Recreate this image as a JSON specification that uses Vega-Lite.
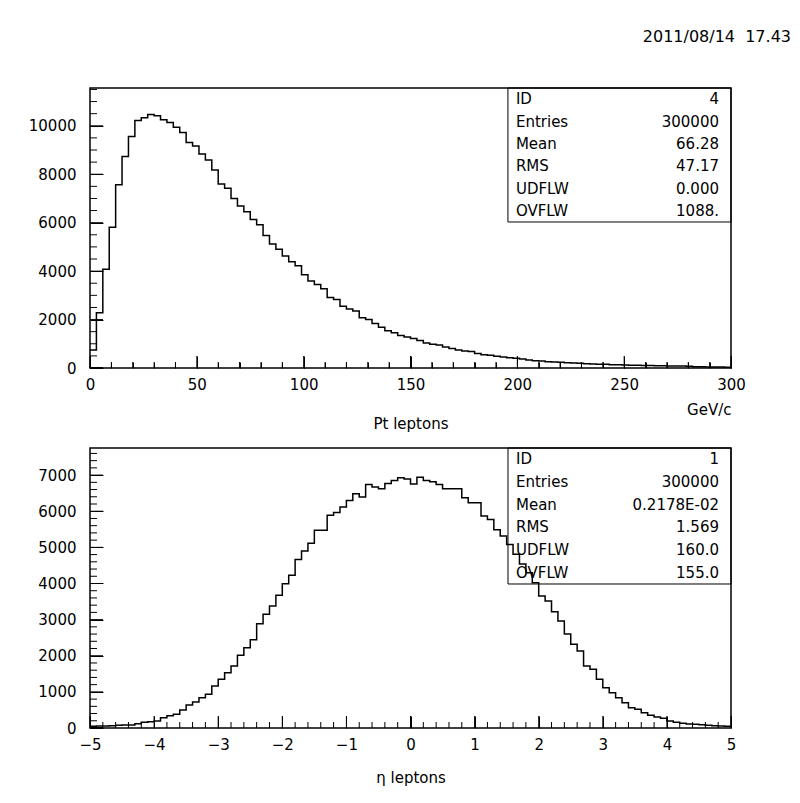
{
  "$schema": "https://vega.github.io/schema/vega-lite/v6.json",
  "background": "white",
  "padding": {"left": 27, "top": 27, "right": 0, "bottom": 0},
  "spacing": 80,
  "bounds": "flush",
  "datasets": {
    "pt": [
      {"pt": 0, "n": 746}, {"pt": 3, "n": 2279}, {"pt": 6, "n": 4074}, {"pt": 9, "n": 5814}, {"pt": 12, "n": 7568},
      {"pt": 15, "n": 8728}, {"pt": 18, "n": 9557}, {"pt": 21, "n": 10219}, {"pt": 24, "n": 10330}, {"pt": 27, "n": 10468},
      {"pt": 30, "n": 10413}, {"pt": 33, "n": 10247}, {"pt": 36, "n": 10137}, {"pt": 39, "n": 9943}, {"pt": 42, "n": 9722},
      {"pt": 45, "n": 9308}, {"pt": 48, "n": 9170}, {"pt": 51, "n": 8838}, {"pt": 54, "n": 8590}, {"pt": 57, "n": 8175},
      {"pt": 60, "n": 7596}, {"pt": 63, "n": 7416}, {"pt": 66, "n": 7002}, {"pt": 69, "n": 6684}, {"pt": 72, "n": 6449},
      {"pt": 75, "n": 6132}, {"pt": 78, "n": 5911}, {"pt": 81, "n": 5469}, {"pt": 84, "n": 5120}, {"pt": 87, "n": 4900},
      {"pt": 90, "n": 4625}, {"pt": 93, "n": 4385}, {"pt": 96, "n": 4226}, {"pt": 99, "n": 3853}, {"pt": 102, "n": 3590},
      {"pt": 105, "n": 3450}, {"pt": 108, "n": 3270}, {"pt": 111, "n": 2914}, {"pt": 114, "n": 2825}, {"pt": 117, "n": 2550},
      {"pt": 120, "n": 2431}, {"pt": 123, "n": 2350}, {"pt": 126, "n": 2070}, {"pt": 129, "n": 2000}, {"pt": 132, "n": 1840},
      {"pt": 135, "n": 1685}, {"pt": 138, "n": 1533}, {"pt": 141, "n": 1457}, {"pt": 144, "n": 1346}, {"pt": 147, "n": 1278},
      {"pt": 150, "n": 1222}, {"pt": 153, "n": 1132}, {"pt": 156, "n": 1036}, {"pt": 159, "n": 980}, {"pt": 162, "n": 950},
      {"pt": 165, "n": 863}, {"pt": 168, "n": 801}, {"pt": 171, "n": 746}, {"pt": 174, "n": 704}, {"pt": 177, "n": 677},
      {"pt": 180, "n": 594}, {"pt": 183, "n": 552}, {"pt": 186, "n": 525}, {"pt": 189, "n": 483}, {"pt": 192, "n": 456},
      {"pt": 195, "n": 428}, {"pt": 198, "n": 400}, {"pt": 201, "n": 373}, {"pt": 204, "n": 331}, {"pt": 207, "n": 304},
      {"pt": 210, "n": 290}, {"pt": 213, "n": 262}, {"pt": 216, "n": 249}, {"pt": 219, "n": 235}, {"pt": 222, "n": 221},
      {"pt": 225, "n": 207}, {"pt": 228, "n": 193}, {"pt": 231, "n": 180}, {"pt": 234, "n": 166}, {"pt": 237, "n": 152},
      {"pt": 240, "n": 150}, {"pt": 243, "n": 138}, {"pt": 246, "n": 135}, {"pt": 249, "n": 124}, {"pt": 252, "n": 118},
      {"pt": 255, "n": 112}, {"pt": 258, "n": 106}, {"pt": 261, "n": 100}, {"pt": 264, "n": 95}, {"pt": 267, "n": 90},
      {"pt": 270, "n": 86}, {"pt": 273, "n": 82}, {"pt": 276, "n": 78}, {"pt": 279, "n": 74}, {"pt": 282, "n": 50},
      {"pt": 285, "n": 47}, {"pt": 288, "n": 44}, {"pt": 291, "n": 41}, {"pt": 294, "n": 38}, {"pt": 297, "n": 35},
      {"pt": 300, "n": 35}
    ],
    "eta": [
      {"eta": -5, "n": 45}, {"eta": -4.9, "n": 55}, {"eta": -4.8, "n": 55}, {"eta": -4.7, "n": 65}, {"eta": -4.6, "n": 74},
      {"eta": -4.5, "n": 83}, {"eta": -4.4, "n": 83}, {"eta": -4.3, "n": 120}, {"eta": -4.2, "n": 157}, {"eta": -4.1, "n": 175},
      {"eta": -4, "n": 194}, {"eta": -3.9, "n": 286}, {"eta": -3.8, "n": 341}, {"eta": -3.7, "n": 378}, {"eta": -3.6, "n": 498},
      {"eta": -3.5, "n": 636}, {"eta": -3.4, "n": 719}, {"eta": -3.3, "n": 839}, {"eta": -3.2, "n": 932}, {"eta": -3.1, "n": 1162},
      {"eta": -3, "n": 1347}, {"eta": -2.9, "n": 1531}, {"eta": -2.8, "n": 1716}, {"eta": -2.7, "n": 2011}, {"eta": -2.6, "n": 2223},
      {"eta": -2.5, "n": 2440}, {"eta": -2.4, "n": 2887}, {"eta": -2.3, "n": 3145}, {"eta": -2.2, "n": 3376}, {"eta": -2.1, "n": 3671},
      {"eta": -2, "n": 3994}, {"eta": -1.9, "n": 4225}, {"eta": -1.8, "n": 4667}, {"eta": -1.7, "n": 4898}, {"eta": -1.6, "n": 5115},
      {"eta": -1.5, "n": 5475}, {"eta": -1.4, "n": 5475}, {"eta": -1.3, "n": 5890}, {"eta": -1.2, "n": 5963}, {"eta": -1.1, "n": 6116},
      {"eta": -1, "n": 6300}, {"eta": -0.9, "n": 6484}, {"eta": -0.8, "n": 6396}, {"eta": -0.7, "n": 6738}, {"eta": -0.6, "n": 6669},
      {"eta": -0.5, "n": 6623}, {"eta": -0.4, "n": 6770}, {"eta": -0.3, "n": 6853}, {"eta": -0.2, "n": 6927}, {"eta": -0.1, "n": 6895},
      {"eta": 0, "n": 6752}, {"eta": 0.1, "n": 6940}, {"eta": 0.2, "n": 6853}, {"eta": 0.3, "n": 6817}, {"eta": 0.4, "n": 6743},
      {"eta": 0.5, "n": 6623}, {"eta": 0.6, "n": 6623}, {"eta": 0.7, "n": 6623}, {"eta": 0.8, "n": 6374}, {"eta": 0.9, "n": 6235},
      {"eta": 1, "n": 6235}, {"eta": 1.1, "n": 5866}, {"eta": 1.2, "n": 5774}, {"eta": 1.3, "n": 5490}, {"eta": 1.4, "n": 5313},
      {"eta": 1.5, "n": 5082}, {"eta": 1.6, "n": 4806}, {"eta": 1.7, "n": 4540}, {"eta": 1.8, "n": 4298}, {"eta": 1.9, "n": 4022},
      {"eta": 2, "n": 3653}, {"eta": 2.1, "n": 3514}, {"eta": 2.2, "n": 3220}, {"eta": 2.3, "n": 2961}, {"eta": 2.4, "n": 2600},
      {"eta": 2.5, "n": 2315}, {"eta": 2.6, "n": 2131}, {"eta": 2.7, "n": 1716}, {"eta": 2.8, "n": 1623}, {"eta": 2.9, "n": 1347},
      {"eta": 3, "n": 1116}, {"eta": 3.1, "n": 978}, {"eta": 3.2, "n": 839}, {"eta": 3.3, "n": 701}, {"eta": 3.4, "n": 563},
      {"eta": 3.5, "n": 517}, {"eta": 3.6, "n": 424}, {"eta": 3.7, "n": 351}, {"eta": 3.8, "n": 304}, {"eta": 3.9, "n": 267},
      {"eta": 4, "n": 194}, {"eta": 4.1, "n": 157}, {"eta": 4.2, "n": 129}, {"eta": 4.3, "n": 111}, {"eta": 4.4, "n": 101},
      {"eta": 4.5, "n": 92}, {"eta": 4.6, "n": 74}, {"eta": 4.7, "n": 65}, {"eta": 4.8, "n": 55}, {"eta": 4.9, "n": 45},
      {"eta": 5, "n": 45}
    ],
    "stat1": [
      {"stat": "ID", "value": "4"},
      {"stat": "Entries", "value": "300000"},
      {"stat": "Mean", "value": "66.28"},
      {"stat": "RMS", "value": "47.17"},
      {"stat": "UDFLW", "value": "0.000"},
      {"stat": "OVFLW", "value": "1088."}
    ],
    "stat2": [
      {"stat": "ID", "value": "1"},
      {"stat": "Entries", "value": "300000"},
      {"stat": "Mean", "value": "0.2178E-02"},
      {"stat": "RMS", "value": "1.569"},
      {"stat": "UDFLW", "value": "160.0"},
      {"stat": "OVFLW", "value": "155.0"}
    ],
    "ptMaj": [{"v": 0}, {"v": 50}, {"v": 100}, {"v": 150}, {"v": 200}, {"v": 250}, {"v": 300}],
    "ptMin": [{"v": 10}, {"v": 20}, {"v": 30}, {"v": 40}, {"v": 60}, {"v": 70}, {"v": 80}, {"v": 90}, {"v": 110}, {"v": 120}, {"v": 130}, {"v": 140}, {"v": 160}, {"v": 170}, {"v": 180}, {"v": 190}, {"v": 210}, {"v": 220}, {"v": 230}, {"v": 240}, {"v": 260}, {"v": 270}, {"v": 280}, {"v": 290}],
    "etaMaj": [{"v": -5}, {"v": -4}, {"v": -3}, {"v": -2}, {"v": -1}, {"v": 0}, {"v": 1}, {"v": 2}, {"v": 3}, {"v": 4}, {"v": 5}],
    "etaMin": [{"v": -4.8}, {"v": -4.6}, {"v": -4.4}, {"v": -4.2}, {"v": -3.8}, {"v": -3.6}, {"v": -3.4}, {"v": -3.2}, {"v": -2.8}, {"v": -2.6}, {"v": -2.4}, {"v": -2.2}, {"v": -1.8}, {"v": -1.6}, {"v": -1.4}, {"v": -1.2}, {"v": -0.8}, {"v": -0.6}, {"v": -0.4}, {"v": -0.2}, {"v": 0.2}, {"v": 0.4}, {"v": 0.6}, {"v": 0.8}, {"v": 1.2}, {"v": 1.4}, {"v": 1.6}, {"v": 1.8}, {"v": 2.2}, {"v": 2.4}, {"v": 2.6}, {"v": 2.8}, {"v": 3.2}, {"v": 3.4}, {"v": 3.6}, {"v": 3.8}, {"v": 4.2}, {"v": 4.4}, {"v": 4.6}, {"v": 4.8}]
  },
  "vconcat": [
    {
      "width": 641,
      "height": 280,
      "title": {"text": "2011/08/14 \u00a017.43", "anchor": "end", "frame": "group", "dx": 60, "offset": 43, "fontSize": 16, "fontWeight": "normal", "font": "DejaVu Sans", "color": "black"},
      "layer": [
        {
          "layer": [
            {
              "data": {"name": "pt"},
              "mark": {"type": "line", "interpolate": "step-after", "color": "black", "strokeWidth": 1.5},
              "encoding": {
                "x": {"field": "pt", "type": "quantitative", "scale": {"domain": [0, 300], "nice": false, "zero": false},
                  "axis": {"orient": "bottom", "values": [0, 50, 100, 150, 200, 250, 300], "format": "d", "offset": -12, "ticks": true, "tickSize": 12, "tickColor": "black", "tickWidth": 1, "labelPadding": 9, "domain": false, "grid": false, "labelFlush": false, "labelOverlap": false, "title": "Pt leptons", "titlePadding": 24}},
                "y": {"field": "n", "type": "quantitative", "scale": {"domain": [0, 11560], "nice": false},
                  "axis": {"orient": "left", "values": [0, 2000, 4000, 6000, 8000, 10000], "format": "d", "offset": -13, "ticks": true, "tickSize": 13, "tickColor": "black", "tickWidth": 1, "labelPadding": 14, "domain": false, "grid": false, "labelFlush": false, "labelOverlap": false, "title": null}}
              }
            },
            {
              "data": {"values": [{}]},
              "mark": {"type": "rect", "fill": null, "stroke": "black", "strokeWidth": 1},
              "encoding": {
                "x": {"datum": 195.6, "type": "quantitative",
                  "axis": {"orient": "bottom", "offset": -6, "ticks": true, "tickSize": 6, "tickColor": "black", "values": [0, 10, 20, 30, 40, 50, 60, 70, 80, 90, 100, 110, 120, 130, 140, 150, 160, 170, 180, 190, 200, 210, 220, 230, 240, 250, 260, 270, 280, 290, 300], "labels": false, "domain": false, "grid": false, "title": "GeV/c", "titleAnchor": "end", "titlePadding": 34}},
                "x2": {"datum": 300},
                "y": {"datum": 6028, "type": "quantitative", "axis": null},
                "y2": {"datum": 11560}
              }
            },
            {
              "data": {"name": "ptMaj"},
              "mark": {"type": "tick", "orient": "vertical", "size": 12, "thickness": 1, "color": "black", "opacity": 1, "yOffset": -6},
              "encoding": {"x": {"field": "v", "type": "quantitative", "axis": null}, "y": {"datum": 0, "type": "quantitative", "axis": null}}
            },
            {
              "data": {"name": "ptMin"},
              "mark": {"type": "tick", "orient": "vertical", "size": 6, "thickness": 1, "color": "black", "opacity": 1, "yOffset": -3},
              "encoding": {"x": {"field": "v", "type": "quantitative", "axis": null}, "y": {"datum": 0, "type": "quantitative", "axis": null}}
            },
            {"data": {"values": [{}]}, "mark": {"type": "rect", "color": "black"}, "encoding": {"x": {"datum": 0, "type": "quantitative", "axis": null}, "x2": {"datum": 6.08}, "y": {"datum": 0, "type": "quantitative", "axis": null}, "y2": {"datum": 41}}},
            {"data": {"values": [{}]}, "mark": {"type": "rect", "color": "black"}, "encoding": {"x": {"datum": 0, "type": "quantitative", "axis": null}, "x2": {"datum": 6.08}, "y": {"datum": 1980, "type": "quantitative", "axis": null}, "y2": {"datum": 2020}}},
            {"data": {"values": [{}]}, "mark": {"type": "rect", "color": "black"}, "encoding": {"x": {"datum": 0, "type": "quantitative", "axis": null}, "x2": {"datum": 6.08}, "y": {"datum": 3980, "type": "quantitative", "axis": null}, "y2": {"datum": 4020}}},
            {"data": {"values": [{}]}, "mark": {"type": "rect", "color": "black"}, "encoding": {"x": {"datum": 0, "type": "quantitative", "axis": null}, "x2": {"datum": 6.08}, "y": {"datum": 5980, "type": "quantitative", "axis": null}, "y2": {"datum": 6020}}},
            {"data": {"values": [{}]}, "mark": {"type": "rect", "color": "black"}, "encoding": {"x": {"datum": 0, "type": "quantitative", "axis": null}, "x2": {"datum": 6.08}, "y": {"datum": 7980, "type": "quantitative", "axis": null}, "y2": {"datum": 8020}}},
            {"data": {"values": [{}]}, "mark": {"type": "rect", "color": "black"}, "encoding": {"x": {"datum": 0, "type": "quantitative", "axis": null}, "x2": {"datum": 6.08}, "y": {"datum": 9980, "type": "quantitative", "axis": null}, "y2": {"datum": 10020}}},
            {"data": {"values": [{}]}, "mark": {"type": "rect", "color": "black"}, "encoding": {"x": {"datum": 0, "type": "quantitative", "axis": null}, "x2": {"datum": 3.28}, "y": {"datum": 480, "type": "quantitative", "axis": null}, "y2": {"datum": 520}}},
            {"data": {"values": [{}]}, "mark": {"type": "rect", "color": "black"}, "encoding": {"x": {"datum": 0, "type": "quantitative", "axis": null}, "x2": {"datum": 3.28}, "y": {"datum": 980, "type": "quantitative", "axis": null}, "y2": {"datum": 1020}}},
            {"data": {"values": [{}]}, "mark": {"type": "rect", "color": "black"}, "encoding": {"x": {"datum": 0, "type": "quantitative", "axis": null}, "x2": {"datum": 3.28}, "y": {"datum": 1480, "type": "quantitative", "axis": null}, "y2": {"datum": 1520}}},
            {"data": {"values": [{}]}, "mark": {"type": "rect", "color": "black"}, "encoding": {"x": {"datum": 0, "type": "quantitative", "axis": null}, "x2": {"datum": 3.28}, "y": {"datum": 2480, "type": "quantitative", "axis": null}, "y2": {"datum": 2520}}},
            {"data": {"values": [{}]}, "mark": {"type": "rect", "color": "black"}, "encoding": {"x": {"datum": 0, "type": "quantitative", "axis": null}, "x2": {"datum": 3.28}, "y": {"datum": 2980, "type": "quantitative", "axis": null}, "y2": {"datum": 3020}}},
            {"data": {"values": [{}]}, "mark": {"type": "rect", "color": "black"}, "encoding": {"x": {"datum": 0, "type": "quantitative", "axis": null}, "x2": {"datum": 3.28}, "y": {"datum": 3480, "type": "quantitative", "axis": null}, "y2": {"datum": 3520}}},
            {"data": {"values": [{}]}, "mark": {"type": "rect", "color": "black"}, "encoding": {"x": {"datum": 0, "type": "quantitative", "axis": null}, "x2": {"datum": 3.28}, "y": {"datum": 4480, "type": "quantitative", "axis": null}, "y2": {"datum": 4520}}},
            {"data": {"values": [{}]}, "mark": {"type": "rect", "color": "black"}, "encoding": {"x": {"datum": 0, "type": "quantitative", "axis": null}, "x2": {"datum": 3.28}, "y": {"datum": 4980, "type": "quantitative", "axis": null}, "y2": {"datum": 5020}}},
            {"data": {"values": [{}]}, "mark": {"type": "rect", "color": "black"}, "encoding": {"x": {"datum": 0, "type": "quantitative", "axis": null}, "x2": {"datum": 3.28}, "y": {"datum": 5480, "type": "quantitative", "axis": null}, "y2": {"datum": 5520}}},
            {"data": {"values": [{}]}, "mark": {"type": "rect", "color": "black"}, "encoding": {"x": {"datum": 0, "type": "quantitative", "axis": null}, "x2": {"datum": 3.28}, "y": {"datum": 6480, "type": "quantitative", "axis": null}, "y2": {"datum": 6520}}},
            {"data": {"values": [{}]}, "mark": {"type": "rect", "color": "black"}, "encoding": {"x": {"datum": 0, "type": "quantitative", "axis": null}, "x2": {"datum": 3.28}, "y": {"datum": 6980, "type": "quantitative", "axis": null}, "y2": {"datum": 7020}}},
            {"data": {"values": [{}]}, "mark": {"type": "rect", "color": "black"}, "encoding": {"x": {"datum": 0, "type": "quantitative", "axis": null}, "x2": {"datum": 3.28}, "y": {"datum": 7480, "type": "quantitative", "axis": null}, "y2": {"datum": 7520}}},
            {"data": {"values": [{}]}, "mark": {"type": "rect", "color": "black"}, "encoding": {"x": {"datum": 0, "type": "quantitative", "axis": null}, "x2": {"datum": 3.28}, "y": {"datum": 8480, "type": "quantitative", "axis": null}, "y2": {"datum": 8520}}},
            {"data": {"values": [{}]}, "mark": {"type": "rect", "color": "black"}, "encoding": {"x": {"datum": 0, "type": "quantitative", "axis": null}, "x2": {"datum": 3.28}, "y": {"datum": 8980, "type": "quantitative", "axis": null}, "y2": {"datum": 9020}}},
            {"data": {"values": [{}]}, "mark": {"type": "rect", "color": "black"}, "encoding": {"x": {"datum": 0, "type": "quantitative", "axis": null}, "x2": {"datum": 3.28}, "y": {"datum": 9480, "type": "quantitative", "axis": null}, "y2": {"datum": 9520}}},
            {"data": {"values": [{}]}, "mark": {"type": "rect", "color": "black"}, "encoding": {"x": {"datum": 0, "type": "quantitative", "axis": null}, "x2": {"datum": 3.28}, "y": {"datum": 10480, "type": "quantitative", "axis": null}, "y2": {"datum": 10520}}},
            {"data": {"values": [{}]}, "mark": {"type": "rect", "color": "black"}, "encoding": {"x": {"datum": 0, "type": "quantitative", "axis": null}, "x2": {"datum": 3.28}, "y": {"datum": 10980, "type": "quantitative", "axis": null}, "y2": {"datum": 11020}}},
            {"data": {"values": [{}]}, "mark": {"type": "rect", "color": "black"}, "encoding": {"x": {"datum": 0, "type": "quantitative", "axis": null}, "x2": {"datum": 3.28}, "y": {"datum": 11480, "type": "quantitative", "axis": null}, "y2": {"datum": 11520}}}
          ],
          "resolve": {"axis": {"x": "independent", "y": "independent"}}
        },
        {
          "data": {"name": "stat1"},
          "mark": {"type": "text", "align": "left", "dx": 8},
          "encoding": {
            "x": {"datum": 195.6, "type": "quantitative", "axis": null},
            "y": {"field": "stat", "type": "nominal", "sort": null, "scale": {"type": "band", "paddingInner": 0, "paddingOuter": 0, "range": [0, 134]}, "axis": null},
            "text": {"field": "stat"}
          }
        },
        {
          "data": {"name": "stat1"},
          "mark": {"type": "text", "align": "right", "dx": -12},
          "encoding": {
            "x": {"datum": 300, "type": "quantitative", "axis": null},
            "y": {"field": "stat", "type": "nominal", "sort": null, "scale": {"type": "band", "paddingInner": 0, "paddingOuter": 0, "range": [0, 134]}, "axis": null},
            "text": {"field": "value"}
          }
        }
      ],
      "resolve": {"scale": {"y": "independent"}}
    },
    {
      "width": 641,
      "height": 280,
      "layer": [
        {
          "layer": [
            {
              "data": {"name": "eta"},
              "mark": {"type": "line", "interpolate": "step-after", "color": "black", "strokeWidth": 1.5},
              "encoding": {
                "x": {"field": "eta", "type": "quantitative", "scale": {"domain": [-5, 5], "nice": false, "zero": false},
                  "axis": {"orient": "bottom", "values": [-5, -4, -3, -2, -1, 0, 1, 2, 3, 4, 5], "format": "d", "offset": -12, "ticks": true, "tickSize": 12, "tickColor": "black", "tickWidth": 1, "labelPadding": 9, "domain": false, "grid": false, "labelFlush": false, "labelOverlap": false, "title": "η leptons", "titlePadding": 18}},
                "y": {"field": "n", "type": "quantitative", "scale": {"domain": [0, 7750], "nice": false},
                  "axis": {"orient": "left", "values": [0, 1000, 2000, 3000, 4000, 5000, 6000, 7000], "format": "d", "offset": -13, "ticks": true, "tickSize": 13, "tickColor": "black", "tickWidth": 1, "labelPadding": 14, "domain": false, "grid": false, "labelFlush": false, "labelOverlap": false, "title": null}}
              }
            },
            {
              "data": {"values": [{}]},
              "mark": {"type": "rect", "fill": null, "stroke": "black", "strokeWidth": 1},
              "encoding": {
                "x": {"datum": 1.521, "type": "quantitative", "axis": null},
                "x2": {"datum": 5},
                "y": {"datum": 3986, "type": "quantitative", "axis": null},
                "y2": {"datum": 7750}
              }
            },
            {
              "data": {"name": "etaMaj"},
              "mark": {"type": "tick", "orient": "vertical", "size": 12, "thickness": 1, "color": "black", "opacity": 1, "yOffset": -6},
              "encoding": {"x": {"field": "v", "type": "quantitative", "axis": null}, "y": {"datum": 0, "type": "quantitative", "axis": null}}
            },
            {
              "data": {"name": "etaMin"},
              "mark": {"type": "tick", "orient": "vertical", "size": 6, "thickness": 1, "color": "black", "opacity": 1, "yOffset": -3},
              "encoding": {"x": {"field": "v", "type": "quantitative", "axis": null}, "y": {"datum": 0, "type": "quantitative", "axis": null}}
            },
            {"data": {"values": [{}]}, "mark": {"type": "rect", "color": "black"}, "encoding": {"x": {"datum": -5, "type": "quantitative", "axis": null}, "x2": {"datum": -4.797}, "y": {"datum": 0, "type": "quantitative", "axis": null}, "y2": {"datum": 28}}},
            {"data": {"values": [{}]}, "mark": {"type": "rect", "color": "black"}, "encoding": {"x": {"datum": -5, "type": "quantitative", "axis": null}, "x2": {"datum": -4.797}, "y": {"datum": 986, "type": "quantitative", "axis": null}, "y2": {"datum": 1014}}},
            {"data": {"values": [{}]}, "mark": {"type": "rect", "color": "black"}, "encoding": {"x": {"datum": -5, "type": "quantitative", "axis": null}, "x2": {"datum": -4.797}, "y": {"datum": 1986, "type": "quantitative", "axis": null}, "y2": {"datum": 2014}}},
            {"data": {"values": [{}]}, "mark": {"type": "rect", "color": "black"}, "encoding": {"x": {"datum": -5, "type": "quantitative", "axis": null}, "x2": {"datum": -4.797}, "y": {"datum": 2986, "type": "quantitative", "axis": null}, "y2": {"datum": 3014}}},
            {"data": {"values": [{}]}, "mark": {"type": "rect", "color": "black"}, "encoding": {"x": {"datum": -5, "type": "quantitative", "axis": null}, "x2": {"datum": -4.797}, "y": {"datum": 3986, "type": "quantitative", "axis": null}, "y2": {"datum": 4014}}},
            {"data": {"values": [{}]}, "mark": {"type": "rect", "color": "black"}, "encoding": {"x": {"datum": -5, "type": "quantitative", "axis": null}, "x2": {"datum": -4.797}, "y": {"datum": 4986, "type": "quantitative", "axis": null}, "y2": {"datum": 5014}}},
            {"data": {"values": [{}]}, "mark": {"type": "rect", "color": "black"}, "encoding": {"x": {"datum": -5, "type": "quantitative", "axis": null}, "x2": {"datum": -4.797}, "y": {"datum": 5986, "type": "quantitative", "axis": null}, "y2": {"datum": 6014}}},
            {"data": {"values": [{}]}, "mark": {"type": "rect", "color": "black"}, "encoding": {"x": {"datum": -5, "type": "quantitative", "axis": null}, "x2": {"datum": -4.797}, "y": {"datum": 6986, "type": "quantitative", "axis": null}, "y2": {"datum": 7014}}},
            {"data": {"values": [{}]}, "mark": {"type": "rect", "color": "black"}, "encoding": {"x": {"datum": -5, "type": "quantitative", "axis": null}, "x2": {"datum": -4.891}, "y": {"datum": 186, "type": "quantitative", "axis": null}, "y2": {"datum": 214}}},
            {"data": {"values": [{}]}, "mark": {"type": "rect", "color": "black"}, "encoding": {"x": {"datum": -5, "type": "quantitative", "axis": null}, "x2": {"datum": -4.891}, "y": {"datum": 386, "type": "quantitative", "axis": null}, "y2": {"datum": 414}}},
            {"data": {"values": [{}]}, "mark": {"type": "rect", "color": "black"}, "encoding": {"x": {"datum": -5, "type": "quantitative", "axis": null}, "x2": {"datum": -4.891}, "y": {"datum": 586, "type": "quantitative", "axis": null}, "y2": {"datum": 614}}},
            {"data": {"values": [{}]}, "mark": {"type": "rect", "color": "black"}, "encoding": {"x": {"datum": -5, "type": "quantitative", "axis": null}, "x2": {"datum": -4.891}, "y": {"datum": 786, "type": "quantitative", "axis": null}, "y2": {"datum": 814}}},
            {"data": {"values": [{}]}, "mark": {"type": "rect", "color": "black"}, "encoding": {"x": {"datum": -5, "type": "quantitative", "axis": null}, "x2": {"datum": -4.891}, "y": {"datum": 1186, "type": "quantitative", "axis": null}, "y2": {"datum": 1214}}},
            {"data": {"values": [{}]}, "mark": {"type": "rect", "color": "black"}, "encoding": {"x": {"datum": -5, "type": "quantitative", "axis": null}, "x2": {"datum": -4.891}, "y": {"datum": 1386, "type": "quantitative", "axis": null}, "y2": {"datum": 1414}}},
            {"data": {"values": [{}]}, "mark": {"type": "rect", "color": "black"}, "encoding": {"x": {"datum": -5, "type": "quantitative", "axis": null}, "x2": {"datum": -4.891}, "y": {"datum": 1586, "type": "quantitative", "axis": null}, "y2": {"datum": 1614}}},
            {"data": {"values": [{}]}, "mark": {"type": "rect", "color": "black"}, "encoding": {"x": {"datum": -5, "type": "quantitative", "axis": null}, "x2": {"datum": -4.891}, "y": {"datum": 1786, "type": "quantitative", "axis": null}, "y2": {"datum": 1814}}},
            {"data": {"values": [{}]}, "mark": {"type": "rect", "color": "black"}, "encoding": {"x": {"datum": -5, "type": "quantitative", "axis": null}, "x2": {"datum": -4.891}, "y": {"datum": 2186, "type": "quantitative", "axis": null}, "y2": {"datum": 2214}}},
            {"data": {"values": [{}]}, "mark": {"type": "rect", "color": "black"}, "encoding": {"x": {"datum": -5, "type": "quantitative", "axis": null}, "x2": {"datum": -4.891}, "y": {"datum": 2386, "type": "quantitative", "axis": null}, "y2": {"datum": 2414}}},
            {"data": {"values": [{}]}, "mark": {"type": "rect", "color": "black"}, "encoding": {"x": {"datum": -5, "type": "quantitative", "axis": null}, "x2": {"datum": -4.891}, "y": {"datum": 2586, "type": "quantitative", "axis": null}, "y2": {"datum": 2614}}},
            {"data": {"values": [{}]}, "mark": {"type": "rect", "color": "black"}, "encoding": {"x": {"datum": -5, "type": "quantitative", "axis": null}, "x2": {"datum": -4.891}, "y": {"datum": 2786, "type": "quantitative", "axis": null}, "y2": {"datum": 2814}}},
            {"data": {"values": [{}]}, "mark": {"type": "rect", "color": "black"}, "encoding": {"x": {"datum": -5, "type": "quantitative", "axis": null}, "x2": {"datum": -4.891}, "y": {"datum": 3186, "type": "quantitative", "axis": null}, "y2": {"datum": 3214}}},
            {"data": {"values": [{}]}, "mark": {"type": "rect", "color": "black"}, "encoding": {"x": {"datum": -5, "type": "quantitative", "axis": null}, "x2": {"datum": -4.891}, "y": {"datum": 3386, "type": "quantitative", "axis": null}, "y2": {"datum": 3414}}},
            {"data": {"values": [{}]}, "mark": {"type": "rect", "color": "black"}, "encoding": {"x": {"datum": -5, "type": "quantitative", "axis": null}, "x2": {"datum": -4.891}, "y": {"datum": 3586, "type": "quantitative", "axis": null}, "y2": {"datum": 3614}}},
            {"data": {"values": [{}]}, "mark": {"type": "rect", "color": "black"}, "encoding": {"x": {"datum": -5, "type": "quantitative", "axis": null}, "x2": {"datum": -4.891}, "y": {"datum": 3786, "type": "quantitative", "axis": null}, "y2": {"datum": 3814}}},
            {"data": {"values": [{}]}, "mark": {"type": "rect", "color": "black"}, "encoding": {"x": {"datum": -5, "type": "quantitative", "axis": null}, "x2": {"datum": -4.891}, "y": {"datum": 4186, "type": "quantitative", "axis": null}, "y2": {"datum": 4214}}},
            {"data": {"values": [{}]}, "mark": {"type": "rect", "color": "black"}, "encoding": {"x": {"datum": -5, "type": "quantitative", "axis": null}, "x2": {"datum": -4.891}, "y": {"datum": 4386, "type": "quantitative", "axis": null}, "y2": {"datum": 4414}}},
            {"data": {"values": [{}]}, "mark": {"type": "rect", "color": "black"}, "encoding": {"x": {"datum": -5, "type": "quantitative", "axis": null}, "x2": {"datum": -4.891}, "y": {"datum": 4586, "type": "quantitative", "axis": null}, "y2": {"datum": 4614}}},
            {"data": {"values": [{}]}, "mark": {"type": "rect", "color": "black"}, "encoding": {"x": {"datum": -5, "type": "quantitative", "axis": null}, "x2": {"datum": -4.891}, "y": {"datum": 4786, "type": "quantitative", "axis": null}, "y2": {"datum": 4814}}},
            {"data": {"values": [{}]}, "mark": {"type": "rect", "color": "black"}, "encoding": {"x": {"datum": -5, "type": "quantitative", "axis": null}, "x2": {"datum": -4.891}, "y": {"datum": 5186, "type": "quantitative", "axis": null}, "y2": {"datum": 5214}}},
            {"data": {"values": [{}]}, "mark": {"type": "rect", "color": "black"}, "encoding": {"x": {"datum": -5, "type": "quantitative", "axis": null}, "x2": {"datum": -4.891}, "y": {"datum": 5386, "type": "quantitative", "axis": null}, "y2": {"datum": 5414}}},
            {"data": {"values": [{}]}, "mark": {"type": "rect", "color": "black"}, "encoding": {"x": {"datum": -5, "type": "quantitative", "axis": null}, "x2": {"datum": -4.891}, "y": {"datum": 5586, "type": "quantitative", "axis": null}, "y2": {"datum": 5614}}},
            {"data": {"values": [{}]}, "mark": {"type": "rect", "color": "black"}, "encoding": {"x": {"datum": -5, "type": "quantitative", "axis": null}, "x2": {"datum": -4.891}, "y": {"datum": 5786, "type": "quantitative", "axis": null}, "y2": {"datum": 5814}}},
            {"data": {"values": [{}]}, "mark": {"type": "rect", "color": "black"}, "encoding": {"x": {"datum": -5, "type": "quantitative", "axis": null}, "x2": {"datum": -4.891}, "y": {"datum": 6186, "type": "quantitative", "axis": null}, "y2": {"datum": 6214}}},
            {"data": {"values": [{}]}, "mark": {"type": "rect", "color": "black"}, "encoding": {"x": {"datum": -5, "type": "quantitative", "axis": null}, "x2": {"datum": -4.891}, "y": {"datum": 6386, "type": "quantitative", "axis": null}, "y2": {"datum": 6414}}},
            {"data": {"values": [{}]}, "mark": {"type": "rect", "color": "black"}, "encoding": {"x": {"datum": -5, "type": "quantitative", "axis": null}, "x2": {"datum": -4.891}, "y": {"datum": 6586, "type": "quantitative", "axis": null}, "y2": {"datum": 6614}}},
            {"data": {"values": [{}]}, "mark": {"type": "rect", "color": "black"}, "encoding": {"x": {"datum": -5, "type": "quantitative", "axis": null}, "x2": {"datum": -4.891}, "y": {"datum": 6786, "type": "quantitative", "axis": null}, "y2": {"datum": 6814}}},
            {"data": {"values": [{}]}, "mark": {"type": "rect", "color": "black"}, "encoding": {"x": {"datum": -5, "type": "quantitative", "axis": null}, "x2": {"datum": -4.891}, "y": {"datum": 7186, "type": "quantitative", "axis": null}, "y2": {"datum": 7214}}},
            {"data": {"values": [{}]}, "mark": {"type": "rect", "color": "black"}, "encoding": {"x": {"datum": -5, "type": "quantitative", "axis": null}, "x2": {"datum": -4.891}, "y": {"datum": 7386, "type": "quantitative", "axis": null}, "y2": {"datum": 7414}}},
            {"data": {"values": [{}]}, "mark": {"type": "rect", "color": "black"}, "encoding": {"x": {"datum": -5, "type": "quantitative", "axis": null}, "x2": {"datum": -4.891}, "y": {"datum": 7586, "type": "quantitative", "axis": null}, "y2": {"datum": 7614}}}
          ],
          "resolve": {"axis": {"x": "independent", "y": "independent"}}
        },
        {
          "data": {"name": "stat2"},
          "mark": {"type": "text", "align": "left", "dx": 8},
          "encoding": {
            "x": {"datum": 1.521, "type": "quantitative", "axis": null},
            "y": {"field": "stat", "type": "nominal", "sort": null, "scale": {"type": "band", "paddingInner": 0, "paddingOuter": 0, "range": [0, 136]}, "axis": null},
            "text": {"field": "stat"}
          }
        },
        {
          "data": {"name": "stat2"},
          "mark": {"type": "text", "align": "right", "dx": -12},
          "encoding": {
            "x": {"datum": 5, "type": "quantitative", "axis": null},
            "y": {"field": "stat", "type": "nominal", "sort": null, "scale": {"type": "band", "paddingInner": 0, "paddingOuter": 0, "range": [0, 136]}, "axis": null},
            "text": {"field": "value"}
          }
        }
      ],
      "resolve": {"scale": {"y": "independent"}}
    }
  ],
  "config": {
    "view": {"stroke": "black", "strokeWidth": 1.5, "fill": null},
    "text": {"font": "DejaVu Sans", "fontSize": 15, "color": "black"},
    "axis": {"labelFont": "DejaVu Sans", "labelFontSize": 15, "labelColor": "black", "titleFont": "DejaVu Sans", "titleFontSize": 15, "titleFontWeight": "normal", "titleColor": "black", "tickColor": "black", "tickWidth": 1, "ticks": true}
  }
}
